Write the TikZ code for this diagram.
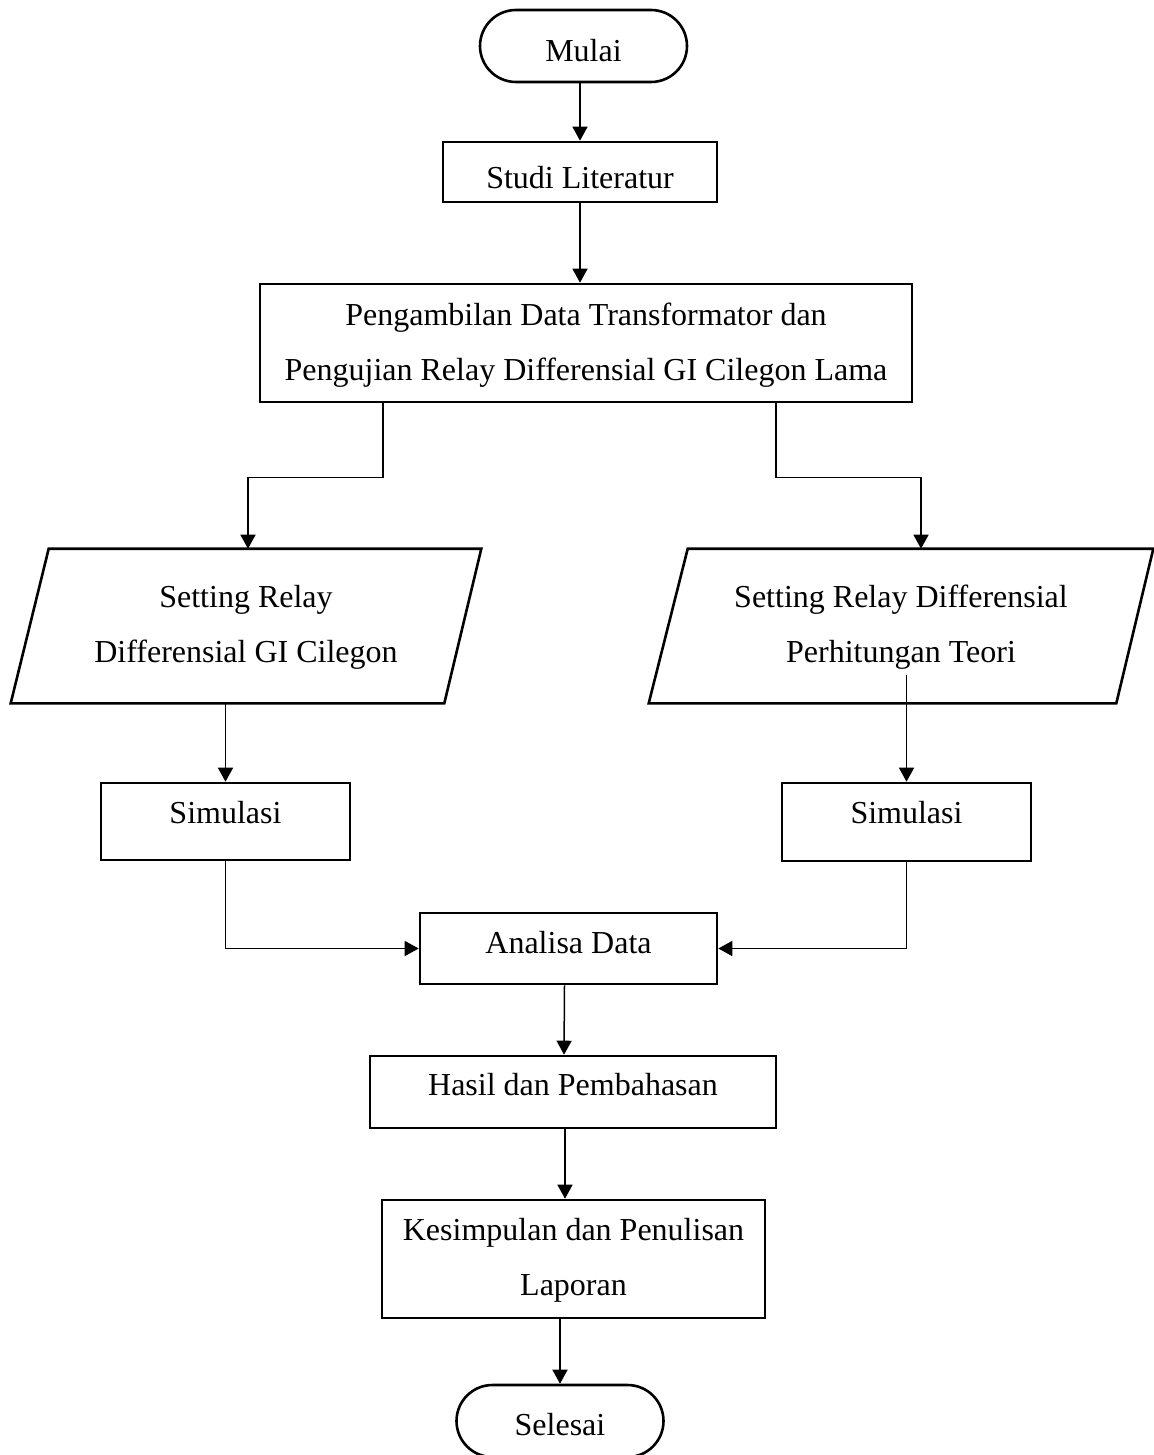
\documentclass[tikz,border=0pt]{standalone}
\usepackage{fontspec}
\setmainfont{Liberation Serif}
\usetikzlibrary{shapes.misc,arrows.meta}
\begin{document}
\begin{tikzpicture}[x=1pt,y=-1pt,
  font=\fontsize{32}{55}\selectfont,
  box/.style={draw, line width=2.6pt, rectangle, inner sep=0pt},
  term/.style={draw, line width=2.6pt, rounded rectangle, inner sep=0pt},
  iobox/.style={rectangle, inner sep=0pt, outer sep=1.3pt},
  para/.style={line width=2.6pt, line join=miter},
  conn/.style={line width=1.5pt, -{Triangle[length=14pt,width=15pt]}},
  twoline/.style={text height=0pt, text depth=#1}
]
\useasboundingbox (0,0) rectangle (1153,1455);

% nodes
\node[term, minimum width=207, minimum height=72, text height=32pt, text depth=0pt] (mulai) at (583.5,46) {Mulai};
\node[box, minimum width=274, minimum height=60, text height=33pt, text depth=0pt] (studi) at (580,172) {Studi Literatur};
\node[box, minimum width=652, minimum height=118, twoline=36pt] (peng) at (586,343)
  {\begin{tabular}[t]{@{}c@{}}Pengambilan Data Transformator dan\\Pengujian Relay Differensial GI Cilegon Lama\end{tabular}};
\node[iobox, minimum width=468, minimum height=152, twoline=38pt] (set1) at (246,626)
  {\begin{tabular}[t]{@{}c@{}}Setting Relay\\Differensial GI Cilegon\end{tabular}};
\node[iobox, minimum width=502, minimum height=152, twoline=38pt] (set2) at (901,626)
  {\begin{tabular}[t]{@{}c@{}}Setting Relay Differensial\\Perhitungan Teori\end{tabular}};
\draw[para] ([xshift=38pt]set1.north west) -- (set1.north east) -- ([xshift=-37pt]set1.south east) -- (set1.south west) -- cycle;
\draw[para] ([xshift=39pt]set2.north west) -- (set2.north east) -- ([xshift=-37pt]set2.south east) -- (set2.south west) -- cycle;
\node[box, minimum width=249, minimum height=77, text height=3pt, text depth=0pt] (sim1) at (225.5,821.5) {Simulasi};
\node[box, minimum width=249, minimum height=78, text height=2pt, text depth=0pt] (sim2) at (906.5,822) {Simulasi};
\node[box, minimum width=297, minimum height=71, text height=9pt, text depth=0pt] (anal) at (568.5,948.5) {Analisa Data};
\node[box, minimum width=406, minimum height=72, text height=6pt, text depth=0pt] (hasil) at (573,1092) {Hasil dan Pembahasan};
\node[box, minimum width=383, minimum height=118, twoline=38pt] (kesim) at (573.5,1259)
  {\begin{tabular}[t]{@{}c@{}}Kesimpulan dan Penulisan\\Laporan\end{tabular}};
\node[term, minimum width=207, minimum height=72, text height=28pt, text depth=0pt] (selesai) at (560,1421) {Selesai};

\coordinate (t2) at (906.5,675);

% connectors
\draw[conn] (mulai.south -| studi.north) -- (studi.north);
\draw[conn] (studi.south) -- (studi.south |- peng.north);
\draw[conn] ([xshift=-203pt]peng.south) -- ++(0,74) -| ([xshift=2pt]set1.north);
\draw[conn] ([xshift=190pt]peng.south) -- ++(0,74) -| ([xshift=20pt]set2.north);
\draw[conn] (set1.south -| sim1.north) -- (sim1.north);
\draw[conn] (t2) -- (sim2.north);
\draw[conn] (sim1.south) |- (anal.west);
\draw[conn] (sim2.south) |- (anal.east);
\draw[conn] ([xshift=-4pt]anal.south) -- ([xshift=-9pt]hasil.north);
\draw[conn] ([xshift=-8pt]hasil.south) -- ([xshift=-8.5pt]kesim.north);
\draw[conn] ([xshift=-13.5pt]kesim.south) -- (selesai.north);
\end{tikzpicture}
\end{document}
